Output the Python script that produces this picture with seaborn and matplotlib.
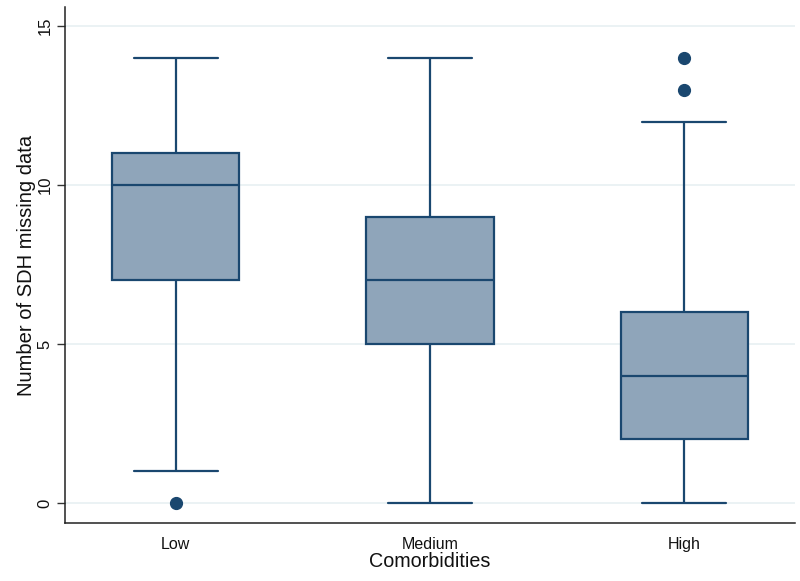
import numpy as np
import pandas as pd
import matplotlib
matplotlib.use("Agg")
import matplotlib.pyplot as plt
import seaborn as sns

sns.set_style("white")
plt.rcParams['font.family'] = ['Liberation Sans', 'DejaVu Sans']

# values (quartiles, whiskers, outliers)
categories = ["Low", "Medium", "High"]
low_vals = [0, 1, 7, 7, 10, 10, 11, 11, 14]
medium_vals = [0, 4, 5, 6, 7, 8, 9, 10, 14]
high_vals = [0, 1, 1, 2, 3, 4, 4, 5, 5, 6, 12, 13, 14]
y_ticks = [0, 5, 10, 15]

df = pd.DataFrame({
    "Comorbidities": ["Low"] * len(low_vals) + ["Medium"] * len(medium_vals) + ["High"] * len(high_vals),
    "n_missing": low_vals + medium_vals + high_vals,
})

navy = "#1a476f"
fill = "#8fa5ba"

fig = plt.figure(figsize=(8, 5.81), dpi=100)
ax = fig.add_axes([0.081, 0.0998, 0.913, 0.888])

ax.grid(False)
for t in y_ticks:
    ax.axhline(t, color="#e8f0f2", lw=1.2, zorder=0)

sns.boxplot(data=df, x="Comorbidities", y="n_missing", order=categories,
            width=0.5, whis=1.5, color=fill, ax=ax,
            boxprops=dict(facecolor=fill, edgecolor=navy, linewidth=1.6),
            medianprops=dict(color=navy, linewidth=1.6),
            whiskerprops=dict(color=navy, linewidth=1.6),
            capprops=dict(color=navy, linewidth=1.6),
            flierprops=dict(marker="o", markerfacecolor=navy, markeredgecolor=navy,
                            markersize=8.5),
            capwidths=0.33)

ax.set_xlim(-0.437, 2.437)
ax.set_ylim(-0.63, 15.6)
ax.set_yticks(y_ticks)
ax.set_yticklabels([str(t) for t in y_ticks], rotation=90, va="center", fontsize=12)
ax.tick_params(axis="y", which="major", length=6, width=1, color="#333333", pad=3,
               left=True, labelcolor="#111111")
ax.tick_params(axis="x", length=0, pad=10, labelsize=11.5, labelcolor="#111111")

ax.set_xlabel("Comorbidities", fontsize=14.2, labelpad=0, color="#111111")
ax.set_ylabel("Number of SDH missing data", fontsize=14.5, labelpad=1, color="#111111")

sns.despine(ax=ax, top=True, right=True)
ax.spines["left"].set_color("#222222")
ax.spines["bottom"].set_color("#222222")
ax.spines["left"].set_linewidth(1.1)
ax.spines["bottom"].set_linewidth(1.1)

fig.savefig("out.png", dpi=100)
